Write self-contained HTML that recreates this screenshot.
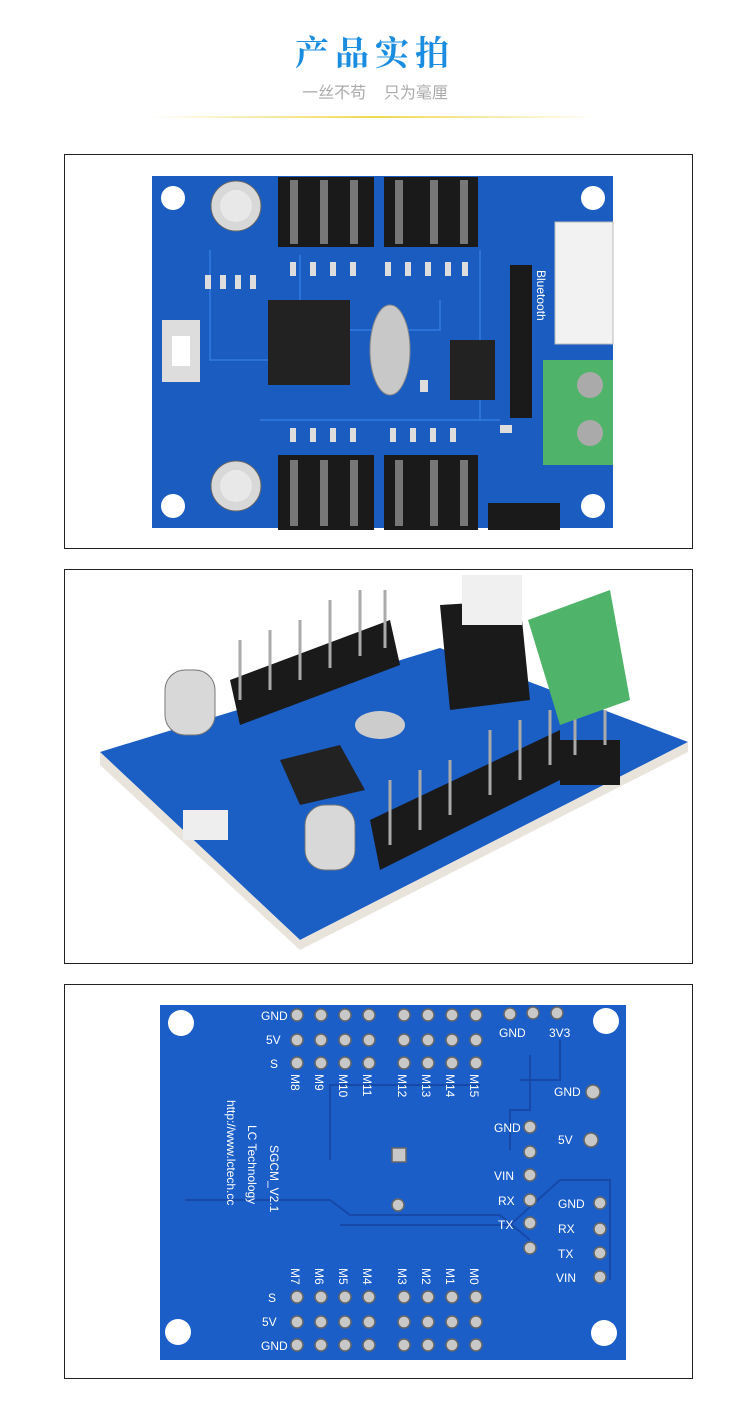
<!DOCTYPE html>
<html><head><meta charset="utf-8"><style>
html,body{margin:0;padding:0;background:#fff;}
body{width:750px;height:1405px;position:relative;overflow:hidden;font-family:"Liberation Sans","Noto Sans CJK SC",sans-serif;}
.t{position:absolute;left:0;width:750px;text-align:center;}
</style></head><body>
<div class="t" style="top:26px;font-size:34px;color:#1b8de0;letter-spacing:6px;font-weight:bold;font-family:'Noto Serif CJK SC','Noto Sans CJK SC',serif;">产品实拍</div>
<div class="t" style="top:79px;font-size:16px;color:#aaa;">一丝不苟&nbsp;&nbsp;&nbsp;&nbsp;只为毫厘</div>
<div style="position:absolute;left:150px;top:116px;width:450px;height:2px;background:linear-gradient(90deg,rgba(240,220,80,0),#f0d850 50%,rgba(240,220,80,0));"></div>
<svg width="750" height="1405" style="position:absolute;left:0;top:0" xmlns="http://www.w3.org/2000/svg" font-family="Liberation Sans,sans-serif">
<g fill="none" stroke="#222" stroke-width="1">
<rect x="64.5" y="154.5" width="628" height="394"/>
<rect x="64.5" y="569.5" width="628" height="394"/>
<rect x="64.5" y="984.5" width="628" height="394"/>
</g>
<!-- board 1 -->
<rect x="152" y="176" width="461" height="352" fill="#1b5cc0"/>
<g fill="none" stroke="#2b73d8" stroke-width="2"><path d="M210 250 V360 H268"/><path d="M350 330 H440 V300"/><path d="M260 420 H500"/><path d="M300 300 V255"/><path d="M480 420 V250"/></g>
<g fill="#fff"><circle cx="173" cy="198" r="12"/><circle cx="593" cy="198" r="12"/><circle cx="173" cy="506" r="12"/><circle cx="593" cy="506" r="12"/></g>
<g fill="#1a1a1a"><rect x="278" y="177" width="96" height="70"/><rect x="384" y="177" width="94" height="70"/><rect x="278" y="455" width="96" height="75"/><rect x="384" y="455" width="94" height="75"/><rect x="488" y="503" width="72" height="27"/><rect x="510" y="265" width="22" height="153"/></g>
<g fill="#777"><rect x="290" y="180" width="8" height="64"/><rect x="320" y="180" width="8" height="64"/><rect x="350" y="180" width="8" height="64"/><rect x="395" y="180" width="8" height="64"/><rect x="430" y="180" width="8" height="64"/><rect x="460" y="180" width="8" height="64"/><rect x="290" y="460" width="8" height="66"/><rect x="320" y="460" width="8" height="66"/><rect x="350" y="460" width="8" height="66"/><rect x="395" y="460" width="8" height="66"/><rect x="430" y="460" width="8" height="66"/><rect x="460" y="460" width="8" height="66"/></g>
<g fill="#ddd"><rect x="290" y="262" width="6" height="14"/><rect x="310" y="262" width="6" height="14"/><rect x="330" y="262" width="6" height="14"/><rect x="350" y="262" width="6" height="14"/><rect x="385" y="262" width="6" height="14"/><rect x="405" y="262" width="6" height="14"/><rect x="425" y="262" width="6" height="14"/><rect x="445" y="262" width="6" height="14"/><rect x="462" y="262" width="6" height="14"/>
<rect x="290" y="428" width="6" height="14"/><rect x="310" y="428" width="6" height="14"/><rect x="330" y="428" width="6" height="14"/><rect x="350" y="428" width="6" height="14"/><rect x="390" y="428" width="6" height="14"/><rect x="410" y="428" width="6" height="14"/><rect x="430" y="428" width="6" height="14"/><rect x="450" y="428" width="6" height="14"/>
<rect x="205" y="275" width="6" height="14"/><rect x="220" y="275" width="6" height="14"/><rect x="235" y="275" width="6" height="14"/><rect x="250" y="275" width="6" height="14"/><rect x="420" y="380" width="8" height="12"/><rect x="500" y="425" width="12" height="8"/></g>
<circle cx="236" cy="206" r="25" fill="#d8d8d8" stroke="#666"/><circle cx="236" cy="486" r="25" fill="#d8d8d8" stroke="#666"/>
<circle cx="236" cy="206" r="16" fill="#e8e8e8"/><circle cx="236" cy="486" r="16" fill="#e8e8e8"/>
<rect x="268" y="300" width="82" height="85" fill="#222"/>
<ellipse cx="390" cy="350" rx="20" ry="45" fill="#c8c8c8" stroke="#888"/>
<rect x="162" y="320" width="38" height="62" fill="#ddd"/><rect x="172" y="336" width="18" height="30" fill="#fff"/>
<rect x="555" y="222" width="58" height="122" fill="#f2f2f2" stroke="#bbb"/>
<rect x="543" y="360" width="70" height="105" fill="#4fb36a"/><circle cx="590" cy="385" r="13" fill="#aaa"/><circle cx="590" cy="433" r="13" fill="#aaa"/>
<rect x="450" y="340" width="45" height="60" fill="#222"/>
<text x="537" y="270" fill="#fff" font-size="12" transform="rotate(90 537 270)">Bluetooth</text>
<!-- board 2 -->
<polygon points="100,752 440,648 688,742 300,940" fill="#1b5ec4"/>
<polygon points="100,752 300,940 300,950 100,765" fill="#e8e4dc"/>
<polygon points="300,940 688,742 688,752 300,950" fill="#e8e4dc"/>
<g fill="#1a1a1a"><polygon points="230,680 390,620 400,665 240,725"/><polygon points="370,820 560,730 560,780 380,870"/><rect x="560" y="740" width="60" height="45"/><polygon points="440,605 520,600 530,700 450,710"/></g>
<g stroke="#aaa" stroke-width="3"><line x1="240" y1="700" x2="240" y2="640"/><line x1="270" y1="690" x2="270" y2="630"/><line x1="300" y1="680" x2="300" y2="620"/><line x1="330" y1="668" x2="330" y2="600"/><line x1="360" y1="656" x2="360" y2="590"/><line x1="385" y1="648" x2="385" y2="590"/><line x1="390" y1="845" x2="390" y2="780"/><line x1="420" y1="830" x2="420" y2="770"/><line x1="450" y1="815" x2="450" y2="760"/><line x1="490" y1="795" x2="490" y2="730"/><line x1="520" y1="780" x2="520" y2="720"/><line x1="550" y1="765" x2="550" y2="710"/><line x1="575" y1="755" x2="575" y2="715"/><line x1="605" y1="745" x2="605" y2="710"/></g>
<polygon points="528,620 610,590 630,700 560,725" fill="#4fb36a"/>
<rect x="462" y="575" width="60" height="50" fill="#f0f0f0"/>
<rect x="165" y="670" width="50" height="65" rx="20" fill="#d8d8d8" stroke="#777"/>
<rect x="305" y="805" width="50" height="65" rx="20" fill="#d8d8d8" stroke="#777"/>
<polygon points="280,760 340,745 365,790 300,805" fill="#222"/>
<ellipse cx="380" cy="725" rx="25" ry="14" fill="#ccc"/>
<rect x="183" y="810" width="45" height="30" fill="#eee"/>
<!-- board 3 -->
<rect x="160" y="1005" width="466" height="355" fill="#1b5ec8"/>
<g fill="#fff"><circle cx="181" cy="1023" r="13"/><circle cx="606" cy="1021" r="13"/><circle cx="178" cy="1332" r="13"/><circle cx="604" cy="1333" r="13"/></g>
<g fill="none" stroke="#1649a8" stroke-width="2"><path d="M330 1160 V1085 H480"/><path d="M185 1200 H330 L350 1215 H500 L530 1240"/><path d="M340 1225 H510 L560 1180 H610 V1280"/><path d="M530 1055 V1110 H510 V1150"/><path d="M560 1040 V1080 H520"/></g>
<g fill="#c8c8c8" stroke="#666" stroke-width="1.5">
<circle cx="297" cy="1015" r="6"/><circle cx="321" cy="1015" r="6"/><circle cx="345" cy="1015" r="6"/><circle cx="369" cy="1015" r="6"/><circle cx="404" cy="1015" r="6"/><circle cx="428" cy="1015" r="6"/><circle cx="452" cy="1015" r="6"/><circle cx="476" cy="1015" r="6"/>
<circle cx="297" cy="1040" r="6"/><circle cx="321" cy="1040" r="6"/><circle cx="345" cy="1040" r="6"/><circle cx="369" cy="1040" r="6"/><circle cx="404" cy="1040" r="6"/><circle cx="428" cy="1040" r="6"/><circle cx="452" cy="1040" r="6"/><circle cx="476" cy="1040" r="6"/>
<circle cx="297" cy="1063" r="6"/><circle cx="321" cy="1063" r="6"/><circle cx="345" cy="1063" r="6"/><circle cx="369" cy="1063" r="6"/><circle cx="404" cy="1063" r="6"/><circle cx="428" cy="1063" r="6"/><circle cx="452" cy="1063" r="6"/><circle cx="476" cy="1063" r="6"/>
<circle cx="297" cy="1297" r="6"/><circle cx="321" cy="1297" r="6"/><circle cx="345" cy="1297" r="6"/><circle cx="369" cy="1297" r="6"/><circle cx="404" cy="1297" r="6"/><circle cx="428" cy="1297" r="6"/><circle cx="452" cy="1297" r="6"/><circle cx="476" cy="1297" r="6"/>
<circle cx="297" cy="1322" r="6"/><circle cx="321" cy="1322" r="6"/><circle cx="345" cy="1322" r="6"/><circle cx="369" cy="1322" r="6"/><circle cx="404" cy="1322" r="6"/><circle cx="428" cy="1322" r="6"/><circle cx="452" cy="1322" r="6"/><circle cx="476" cy="1322" r="6"/>
<circle cx="297" cy="1345" r="6"/><circle cx="321" cy="1345" r="6"/><circle cx="345" cy="1345" r="6"/><circle cx="369" cy="1345" r="6"/><circle cx="404" cy="1345" r="6"/><circle cx="428" cy="1345" r="6"/><circle cx="452" cy="1345" r="6"/><circle cx="476" cy="1345" r="6"/>
<circle cx="510" cy="1014" r="6"/><circle cx="533" cy="1013" r="6"/><circle cx="557" cy="1013" r="6"/>
<circle cx="593" cy="1092" r="7"/><circle cx="591" cy="1140" r="7"/>
<circle cx="530" cy="1127" r="6"/><circle cx="530" cy="1152" r="6"/><circle cx="530" cy="1175" r="6"/><circle cx="530" cy="1200" r="6"/><circle cx="530" cy="1223" r="6"/><circle cx="530" cy="1248" r="6"/>
<circle cx="600" cy="1203" r="6"/><circle cx="600" cy="1229" r="6"/><circle cx="600" cy="1253" r="6"/><circle cx="600" cy="1277" r="6"/>
<circle cx="398" cy="1205" r="6"/><rect x="392" y="1148" width="14" height="14"/>
</g>
<g fill="#fff" font-size="12">
<text x="261" y="1020">GND</text><text x="266" y="1044">5V</text><text x="270" y="1068">S</text>
<text x="261" y="1350">GND</text><text x="262" y="1326">5V</text><text x="268" y="1302">S</text>
<text x="499" y="1037">GND</text><text x="549" y="1037">3V3</text>
<text x="554" y="1096">GND</text><text x="558" y="1144">5V</text>
<text x="494" y="1132">GND</text><text x="494" y="1180">VIN</text><text x="498" y="1205">RX</text><text x="498" y="1229">TX</text>
<text x="558" y="1208">GND</text><text x="558" y="1233">RX</text><text x="558" y="1258">TX</text><text x="556" y="1282">VIN</text>
</g>
<g fill="#fff" font-size="12">
<text transform="translate(291,1074) rotate(90)">M8</text><text transform="translate(315,1074) rotate(90)">M9</text><text transform="translate(339,1074) rotate(90)">M10</text><text transform="translate(363,1074) rotate(90)">M11</text><text transform="translate(398,1074) rotate(90)">M12</text><text transform="translate(422,1074) rotate(90)">M13</text><text transform="translate(446,1074) rotate(90)">M14</text><text transform="translate(470,1074) rotate(90)">M15</text>
<text transform="translate(291,1268) rotate(90)">M7</text><text transform="translate(315,1268) rotate(90)">M6</text><text transform="translate(339,1268) rotate(90)">M5</text><text transform="translate(363,1268) rotate(90)">M4</text><text transform="translate(398,1268) rotate(90)">M3</text><text transform="translate(422,1268) rotate(90)">M2</text><text transform="translate(446,1268) rotate(90)">M1</text><text transform="translate(470,1268) rotate(90)">M0</text>
<text transform="translate(270,1145) rotate(90)">SGCM_V2.1</text>
<text transform="translate(248,1125) rotate(90)">LC Technology</text>
<text transform="translate(227,1100) rotate(90)">http://www.lctech.cc</text>
</g>
</svg>
</body></html>
